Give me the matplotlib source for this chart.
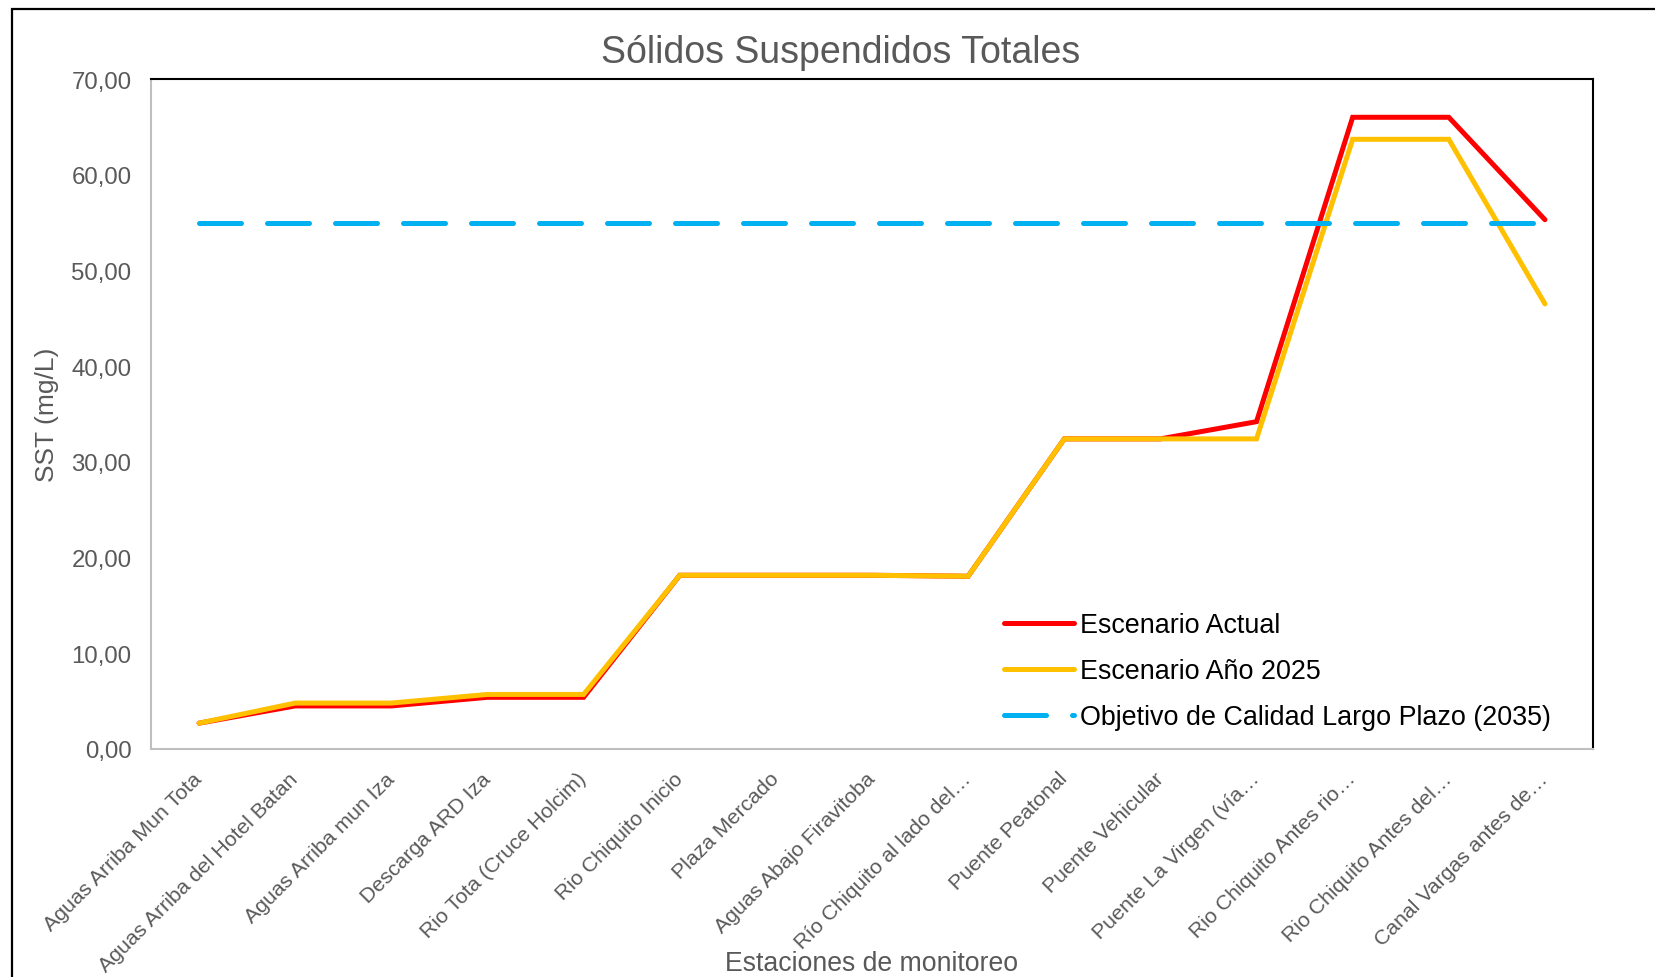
import matplotlib
import matplotlib.pyplot as plt
from matplotlib.patches import Rectangle

matplotlib.use('Agg')

plt.rcParams['font.family'] = ['Liberation Sans', 'DejaVu Sans']

# Stations and values (mg/L)
estaciones = [
    "Aguas Arriba Mun Tota",
    "Aguas Arriba del Hotel Batan",
    "Aguas Arriba mun Iza",
    "Descarga ARD Iza",
    "Rio Tota (Cruce Holcim)",
    "Rio Chiquito Inicio",
    "Plaza Mercado",
    "Aguas Abajo Firavitoba",
    "Río Chiquito al lado del…",
    "Puente Peatonal",
    "Puente Vehicular",
    "Puente La Virgen (vía…",
    "Rio Chiquito Antes rio…",
    "Rio Chiquito Antes del…",
    "Canal Vargas antes de…",
]
escenario_actual = [2.7, 4.5, 4.5, 5.4, 5.4, 18.15, 18.15, 18.15, 18.05,
                    32.4, 32.4, 34.2, 66.0, 66.0, 55.3]
escenario_2025 = [2.7, 4.8, 4.8, 5.7, 5.7, 18.15, 18.15, 18.15, 18.05,
                  32.4, 32.4, 32.4, 63.7, 63.7, 46.5]
objetivo_2035 = [55.0] * len(estaciones)
y_ticks = [0, 10, 20, 30, 40, 50, 60, 70]

W, H = 1655, 978
fig = plt.figure(figsize=(W / 100, H / 100), dpi=100)
ax = fig.add_axes([151 / W, 1 - 750 / H, (1593 - 151) / W, (750 - 80) / H])

x = range(len(estaciones))
ax.plot(x, escenario_actual, color='#FF0000', lw=3.6, solid_capstyle='round',
        solid_joinstyle='miter', label='Escenario Actual')
ax.plot(x, escenario_2025, color='#FFC000', lw=3.6, solid_capstyle='round',
        solid_joinstyle='miter', label='Escenario Año 2025')
ax.plot(x, objetivo_2035, color='#00B0F0', lw=3.6, dashes=(8.4, 5.2),
        dash_capstyle='round', label='Objetivo de Calidad Largo Plazo (2035)')

ax.set_xlim(-0.5, len(estaciones) - 0.5)
ax.set_ylim(0, 70)
ax.set_yticks(y_ticks)
ax.set_yticklabels([f"{v:.2f}".replace('.', ',') for v in y_ticks],
                   fontsize=17.3, color='#595959')
ax.set_xticks(list(x))
ax.set_xticklabels(estaciones, rotation=45, ha='right', va='center',
                   rotation_mode='anchor', fontsize=15.3, color='#595959')
ax.tick_params(axis='both', length=0)
ax.tick_params(axis='y', pad=14)
ax.tick_params(axis='x', pad=19)

for side in ('top', 'right'):
    ax.spines[side].set_color('black')
    ax.spines[side].set_linewidth(1.5)
for side in ('left', 'bottom'):
    ax.spines[side].set_color('#BFBFBF')
    ax.spines[side].set_linewidth(1.5)

fig.text(47 / W, 1 - 415 / H, "SST (mg/L)", rotation=90, ha='center',
         va='center', fontsize=19, color='#595959')
fig.text(872 / W, 1 - 964 / H, "Estaciones de monitoreo", ha='center',
         va='center', fontsize=19.2, color='#595959')
fig.text(841 / W, 1 - 53 / H, "Sólidos Suspendidos Totales", ha='center',
         va='center', fontsize=27, color='#595959')

leg = ax.legend(loc='lower right', bbox_to_anchor=(0.984, 0.0), frameon=False,
                fontsize=19.4, handlelength=2.62, handletextpad=0.22,
                labelspacing=0.74, borderaxespad=0.3)
for t in leg.get_texts():
    t.set_color('black')

# outer chart border (left and top visible)
fig.patches.append(Rectangle((12 / W, -0.1), 2.0, 1 - 10 / H + 0.1,
                             transform=fig.transFigure, fill=False,
                             edgecolor='black', lw=1.6))

fig.savefig("out.png", dpi=100)
plt.close(fig)
